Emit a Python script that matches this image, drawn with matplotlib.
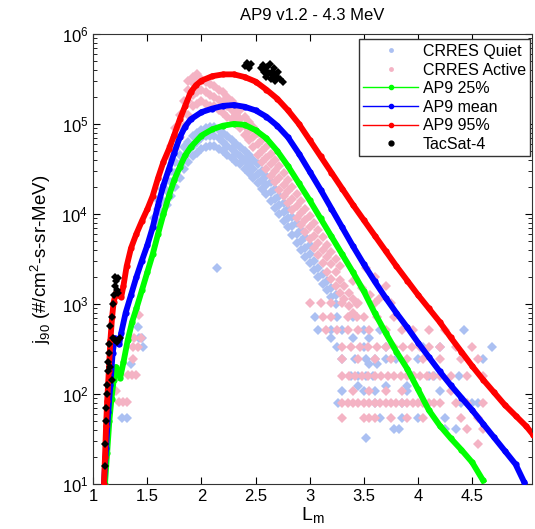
import numpy as np
import matplotlib
matplotlib.use('Agg')
import matplotlib.pyplot as plt
from matplotlib.lines import Line2D

plt.rcParams['font.family'] = ['Liberation Sans', 'DejaVu Sans']

# AP9 model curves (L, log10 flux)
p25_L = [1.11, 1.13, 1.15, 1.17, 1.19, 1.21, 1.23, 1.25, 1.28, 1.32, 1.36, 1.40, 1.45, 1.50,
         1.55, 1.60, 1.65, 1.70, 1.75, 1.80, 1.85, 1.90, 2.00, 2.10, 2.20, 2.30, 2.40, 2.50,
         2.60, 2.70, 2.80, 2.90, 3.00, 3.10, 3.20, 3.30, 3.40, 3.50, 3.60, 3.70, 3.80, 3.90,
         4.00, 4.10, 4.20, 4.30, 4.40, 4.50, 4.60]
p25_log = [1.00, 1.35, 1.70, 1.95, 2.15, 2.30, 2.25, 2.18, 2.35, 2.60, 2.80, 2.95, 3.15, 3.35,
           3.55, 3.78, 4.00, 4.20, 4.38, 4.52, 4.65, 4.74, 4.87, 4.94, 4.98, 5.00, 4.99, 4.93,
           4.84, 4.70, 4.53, 4.34, 4.15, 3.95, 3.75, 3.55, 3.35, 3.14, 2.90, 2.68, 2.47, 2.28,
           2.05, 1.82, 1.65, 1.51, 1.38, 1.24, 1.04]

mean_L = [1.10, 1.12, 1.14, 1.16, 1.18, 1.20, 1.22, 1.24, 1.26, 1.30, 1.35, 1.40, 1.45, 1.50,
          1.55, 1.60, 1.65, 1.70, 1.75, 1.80, 1.85, 1.90, 2.00, 2.10, 2.20, 2.30, 2.40, 2.50,
          2.60, 2.70, 2.80, 2.90, 3.00, 3.10, 3.20, 3.30, 3.40, 3.50, 3.60, 3.70, 3.80, 3.90,
          4.00, 4.10, 4.20, 4.30, 4.40, 4.50, 4.60, 4.70, 4.80, 4.90, 4.98]
mean_log = [1.00, 1.40, 1.80, 2.10, 2.45, 2.62, 2.60, 2.55, 2.68, 2.90, 3.10, 3.30, 3.48, 3.65,
            3.85, 4.10, 4.32, 4.50, 4.68, 4.85, 4.97, 5.05, 5.13, 5.17, 5.20, 5.21, 5.19, 5.15,
            5.08, 4.98, 4.85, 4.67, 4.47, 4.27, 4.06, 3.85, 3.64, 3.44, 3.25, 3.07, 2.90, 2.74,
            2.57, 2.41, 2.25, 2.10, 1.96, 1.82, 1.67, 1.52, 1.37, 1.22, 1.02]

p95_L = [1.10, 1.11, 1.12, 1.13, 1.145, 1.16, 1.175, 1.19, 1.21, 1.23, 1.26, 1.28, 1.31, 1.35,
         1.40, 1.45, 1.50, 1.55, 1.60, 1.65, 1.70, 1.75, 1.80, 1.85, 1.90, 1.95, 2.00, 2.10,
         2.20, 2.30, 2.40, 2.50, 2.60, 2.70, 2.80, 2.90, 3.00, 3.10, 3.20, 3.30, 3.40, 3.50,
         3.60, 3.70, 3.80, 3.90, 4.00, 4.10, 4.20, 4.30, 4.40, 4.50, 4.60, 4.70, 4.80, 4.90,
         5.00, 5.06]
p95_log = [1.00, 1.30, 1.65, 1.92, 2.25, 2.60, 2.85, 3.02, 3.12, 3.10, 3.08, 3.20, 3.42, 3.62,
           3.78, 3.92, 4.05, 4.20, 4.40, 4.58, 4.72, 4.88, 5.05, 5.20, 5.35, 5.43, 5.48, 5.53,
           5.55, 5.55, 5.52, 5.47, 5.38, 5.28, 5.15, 5.00, 4.82, 4.64, 4.46, 4.28, 4.10, 3.93,
           3.76, 3.59, 3.42, 3.26, 3.10, 2.95, 2.80, 2.63, 2.47, 2.31, 2.16, 2.02, 1.88, 1.76,
           1.64, 1.55]

# TacSat-4 measurements
tac_L = [2.40, 2.42, 2.44, 2.46, 2.55, 2.57, 2.59, 2.61, 2.63, 2.65, 2.67, 2.69, 2.71, 2.73,
         2.75, 2.58, 2.62, 2.66, 2.70, 2.60, 2.64, 2.68,
         1.11, 1.11, 1.12, 1.12, 1.13, 1.13, 1.14, 1.14, 1.15, 1.15, 1.16, 1.17, 1.18, 1.19,
         1.20, 1.20, 1.21, 1.22, 1.23, 1.23, 1.18, 1.20, 1.22, 1.25, 1.16, 1.17]
tac_log = [5.64, 5.68, 5.62, 5.66, 5.62, 5.65, 5.60, 5.63, 5.66, 5.58, 5.62, 5.55, 5.58, 5.50,
           5.46, 5.58, 5.56, 5.54, 5.52, 5.52, 5.50, 5.48,
           1.20, 1.45, 1.70, 1.85, 2.00, 2.10, 2.25, 2.35, 2.45, 2.55, 2.75, 2.85, 3.00, 3.10,
           3.20, 3.30, 3.25, 3.15, 3.29, 3.12, 2.62, 2.60, 2.58, 2.62, 2.30, 2.15]

# CRRES Active (pink)
act_L = [1.72, 1.72, 1.76, 1.76, 1.76, 1.80, 1.80, 1.80, 1.84, 1.84, 1.84,
         1.88, 1.88, 1.88, 1.88, 1.92, 1.92, 1.92, 1.92, 1.96, 1.96, 1.96, 1.96,
         2.00, 2.00, 2.00, 2.04, 2.04, 2.04, 2.08, 2.08, 2.08, 2.12, 2.12, 2.12,
         2.16, 2.16, 2.16, 2.20, 2.20, 2.20, 2.24, 2.24, 2.24, 2.28, 2.28, 2.28,
         2.32, 2.32, 2.32, 2.36, 2.36, 2.36, 2.40, 2.40, 2.40, 2.44, 2.44, 2.44,
         2.48, 2.48, 2.48, 2.52, 2.52, 2.52, 2.56, 2.56, 2.56, 2.60, 2.60, 2.60,
         2.64, 2.64, 2.64, 2.68, 2.68, 2.68, 2.72, 2.72, 2.72, 2.76, 2.76, 2.76,
         2.80, 2.80, 2.80, 2.84, 2.84, 2.84, 2.88, 2.88, 2.88, 2.92, 2.92, 2.92,
         2.96, 2.96, 2.96, 3.00, 3.00, 3.00, 3.04, 3.04, 3.04, 3.08, 3.08, 3.08,
         3.12, 3.12, 3.12, 3.16, 3.16, 3.16, 3.20, 3.20, 3.20, 3.24, 3.24, 3.24,
         3.28, 3.28, 3.28, 3.32, 3.32, 3.36, 3.36, 3.40, 3.40, 3.44, 3.44,
         3.40, 3.48, 3.56, 3.64, 3.52, 3.60, 3.70,
         3.00, 3.10, 3.20, 3.30, 3.45, 3.60, 3.75,
         3.12, 3.20, 3.35, 3.50, 3.62, 3.78,
         3.15, 3.25, 3.35, 3.45, 3.55, 3.70, 3.85, 3.95, 4.10, 4.25,
         3.30, 3.38, 3.46, 3.54, 3.62, 3.70, 3.78, 3.86, 3.94, 4.02, 4.10, 4.20, 4.35, 4.50,
         3.30, 3.45, 3.60, 3.75, 3.90, 4.05, 4.20, 4.40, 4.55,
         3.30, 3.36, 3.42, 3.48, 3.54, 3.60, 3.66, 3.72, 3.78, 3.84, 3.90, 3.96, 4.02, 4.08,
         4.14, 4.20, 4.30, 4.45, 4.60,
         3.40, 3.55, 3.70, 3.85, 4.30,
         3.30, 3.35, 3.40, 3.45, 3.50, 3.55, 3.60, 3.65, 3.70, 3.75, 3.80, 3.85, 3.90, 3.95,
         4.00, 4.05, 4.10, 4.15, 4.20, 4.35, 4.45, 4.60,
         3.30, 3.50, 3.55, 3.60, 3.75, 3.90, 4.05, 4.40, 4.55,
         4.45, 4.60, 4.55,
         1.42, 1.38, 1.44, 1.37, 1.41, 1.37, 1.32, 1.36, 1.40, 1.21, 1.24, 1.28, 1.31]
act_log = [4.62, 4.75, 4.72, 4.85, 4.95, 4.85, 4.98, 5.10, 4.98, 5.12, 5.25,
           5.10, 5.25, 5.38, 5.48, 5.20, 5.32, 5.45, 5.52, 5.22, 5.35, 5.48, 5.55,
           5.25, 5.38, 5.50, 5.22, 5.35, 5.47, 5.20, 5.32, 5.44, 5.20, 5.30, 5.42,
           5.15, 5.27, 5.38, 5.12, 5.24, 5.35, 5.08, 5.20, 5.30, 5.05, 5.15, 5.25,
           5.00, 5.10, 5.20, 4.95, 5.05, 5.15, 4.88, 4.98, 5.08, 4.82, 4.92, 5.02,
           4.74, 4.85, 4.96, 4.66, 4.78, 4.90, 4.58, 4.70, 4.82, 4.50, 4.62, 4.74,
           4.42, 4.55, 4.67, 4.35, 4.48, 4.60, 4.27, 4.40, 4.53, 4.20, 4.32, 4.45,
           4.12, 4.25, 4.38, 4.04, 4.17, 4.30, 3.96, 4.09, 4.22, 3.88, 4.01, 4.14,
           3.80, 3.93, 4.06, 3.72, 3.85, 3.98, 3.62, 3.76, 3.90, 3.54, 3.68, 3.82,
           3.45, 3.60, 3.74, 3.36, 3.52, 3.66, 3.28, 3.44, 3.58, 3.20, 3.35, 3.50,
           3.12, 3.27, 3.42, 3.05, 3.20, 2.98, 3.12, 2.90, 3.05, 2.85, 3.00,
           3.25, 3.18, 3.10, 3.05, 3.40, 3.30, 3.20,
           3.01, 3.01, 3.01, 3.01, 3.01, 3.01, 3.01,
           2.85, 2.85, 2.85, 2.85, 2.85, 2.85,
           2.71, 2.71, 2.71, 2.71, 2.71, 2.71, 2.71, 2.71, 2.71, 2.71,
           2.52, 2.52, 2.52, 2.52, 2.52, 2.52, 2.52, 2.52, 2.52, 2.52, 2.52, 2.52, 2.52, 2.52,
           2.39, 2.39, 2.39, 2.39, 2.39, 2.39, 2.39, 2.39, 2.39,
           2.20, 2.20, 2.20, 2.20, 2.20, 2.20, 2.20, 2.20, 2.20, 2.20, 2.20, 2.20, 2.20, 2.20,
           2.20, 2.20, 2.20, 2.20, 2.20,
           2.03, 2.03, 2.03, 2.03, 2.03,
           1.90, 1.90, 1.90, 1.90, 1.90, 1.90, 1.90, 1.90, 1.90, 1.90, 1.90, 1.90, 1.90, 1.90,
           1.90, 1.90, 1.90, 1.90, 1.90, 1.90, 1.90, 1.90,
           1.73, 1.73, 1.73, 1.73, 1.73, 1.73, 1.73, 1.73, 1.73,
           1.61, 1.61, 1.45,
           2.88, 2.62, 2.62, 2.52, 2.52, 2.39, 2.21, 2.21, 2.21, 2.03, 1.91, 1.91, 1.91]

# CRRES Quiet (light blue)
qui_L = [1.56, 1.56, 1.60, 1.60, 1.60, 1.64, 1.64, 1.64, 1.68, 1.68, 1.68, 1.72, 1.72, 1.72,
         1.76, 1.76, 1.76, 1.80, 1.80, 1.80, 1.84, 1.84, 1.84, 1.88, 1.88, 1.88,
         1.92, 1.92, 1.92, 1.96, 1.96, 1.96, 2.00, 2.00, 2.00, 2.04, 2.04, 2.04,
         2.08, 2.08, 2.08, 2.12, 2.12, 2.12, 2.16, 2.16, 2.16, 2.20, 2.20, 2.20,
         2.24, 2.24, 2.24, 2.28, 2.28, 2.28, 2.32, 2.32, 2.32, 2.36, 2.36, 2.36,
         2.40, 2.40, 2.40, 2.44, 2.44, 2.44, 2.48, 2.48, 2.48, 2.52, 2.52, 2.52,
         2.56, 2.56, 2.56, 2.60, 2.60, 2.60, 2.64, 2.64, 2.64, 2.68, 2.68, 2.68,
         2.72, 2.72, 2.72, 2.76, 2.76, 2.76, 2.80, 2.80, 2.80, 2.84, 2.84, 2.84,
         2.88, 2.88, 2.88, 2.92, 2.92, 2.92, 2.96, 2.96, 2.96, 3.00, 3.00, 3.00,
         3.04, 3.04, 3.08, 3.08, 3.12, 3.12, 3.16, 3.16, 3.20, 3.20, 3.24, 3.24,
         3.05, 3.25, 3.40,
         3.08, 3.20, 3.30, 3.50, 3.65, 4.42,
         3.20, 3.40, 3.55,
         3.25, 3.50, 3.70, 4.05, 4.20, 4.68,
         3.30, 3.42, 3.52, 3.60, 3.70, 3.80, 4.00, 4.60,
         3.55, 3.62,
         3.38, 3.45, 3.52, 3.58, 3.95, 4.10, 4.15, 4.38,
         3.45, 3.70, 3.90,
         3.30, 3.50, 3.60, 3.90, 4.20,
         3.26, 3.60, 3.85, 4.40, 4.50, 4.55,
         3.65, 3.85, 4.00, 4.25,
         3.78, 3.82, 4.25, 4.35,
         3.52,
         1.41, 1.45, 1.46, 1.35, 1.42, 1.27, 1.31, 2.14]
qui_log = [3.85, 3.95, 3.90, 4.05, 4.15, 4.00, 4.15, 4.28, 4.10, 4.25, 4.38, 4.20, 4.35, 4.48,
           4.30, 4.45, 4.58, 4.40, 4.55, 4.66, 4.50, 4.63, 4.74, 4.58, 4.70, 4.80,
           4.64, 4.76, 4.86, 4.68, 4.80, 4.90, 4.72, 4.84, 4.93, 4.74, 4.86, 4.95,
           4.75, 4.87, 4.97, 4.75, 4.86, 4.96, 4.72, 4.84, 4.93, 4.70, 4.80, 4.90,
           4.66, 4.76, 4.86, 4.62, 4.72, 4.82, 4.58, 4.68, 4.78, 4.55, 4.64, 4.74,
           4.50, 4.60, 4.70, 4.46, 4.56, 4.66, 4.40, 4.50, 4.60, 4.34, 4.44, 4.55,
           4.28, 4.38, 4.48, 4.22, 4.32, 4.42, 4.14, 4.24, 4.35, 4.07, 4.17, 4.28,
           4.00, 4.10, 4.20, 3.92, 4.02, 4.12, 3.85, 3.95, 4.05, 3.77, 3.87, 3.97,
           3.68, 3.78, 3.90, 3.60, 3.70, 3.82, 3.52, 3.62, 3.74, 3.45, 3.55, 3.66,
           3.38, 3.48, 3.30, 3.40, 3.22, 3.33, 3.15, 3.25, 3.08, 3.18, 3.00, 3.10,
           2.85, 2.85, 2.85,
           2.71, 2.71, 2.71, 2.71, 2.71, 2.71,
           2.62, 2.62, 2.62,
           2.52, 2.52, 2.52, 2.52, 2.52, 2.52,
           2.39, 2.39, 2.39, 2.39, 2.39, 2.39, 2.39, 2.39,
           2.33, 2.33,
           2.20, 2.20, 2.20, 2.20, 2.20, 2.20, 2.20, 2.20,
           2.09, 2.09, 2.09,
           2.03, 2.03, 2.03, 2.03, 2.03,
           1.90, 1.90, 1.90, 1.90, 1.90, 1.90,
           1.73, 1.73, 1.73, 1.73,
           1.61, 1.61, 1.61, 1.61,
           1.51,
           2.74, 2.62, 2.52, 2.33, 2.62, 1.73, 1.73, 3.40]

quiet_color = '#abc0f2'
active_color = '#f4b3c4'

fig = plt.figure(figsize=(5.35, 5.29), dpi=100)
ax = fig.add_axes([0.174, 0.085, 0.82, 0.851])

ax.plot(qui_L, 10 ** np.array(qui_log), 'D', color=quiet_color, ms=5.2, mew=0, zorder=2)
ax.plot(act_L, 10 ** np.array(act_log), 'D', color=active_color, ms=5.2, mew=0, zorder=2)
ax.plot(p25_L, 10 ** np.array(p25_log), '-o', color=(0, 1, 0), lw=4.2, ms=4.5, mew=0, zorder=3)
ax.plot(mean_L, 10 ** np.array(mean_log), '-o', color=(0, 0, 1), lw=4.2, ms=4.5, mew=0, zorder=3)
ax.plot(p95_L, 10 ** np.array(p95_log), '-o', color=(1, 0, 0), lw=4.2, ms=4.5, mew=0, zorder=3)
ax.plot(tac_L, 10 ** np.array(tac_log), 'D', color='k', ms=4.5, mew=0, zorder=4)

ax.set_yscale('log')
ax.set_xlim(1, 5.05)
ax.set_ylim(10, 1e6)
ax.set_xticks([1, 1.5, 2, 2.5, 3, 3.5, 4, 4.5])
ax.set_xticklabels(['1', '1.5', '2', '2.5', '3', '3.5', '4', '4.5'])
ax.tick_params(which='both', direction='in', top=True, right=True, labelsize=12)
ax.tick_params(which='major', length=5)
ax.tick_params(which='minor', length=3)
for s in ax.spines.values():
    s.set_color('#333333')

ax.set_title('AP9 v1.2 - 4.3 MeV', fontsize=12, pad=10)
ax.set_xlabel('L$_\\mathregular{m}$', fontsize=14, labelpad=1)
ax.set_ylabel('j$_\\mathregular{90}$ (#/cm$^\\mathregular{2}$-s-sr-MeV)', fontsize=13.5, labelpad=6)

handles = [
    Line2D([], [], ls='none', marker='o', ms=3.5, color=quiet_color, mew=0),
    Line2D([], [], ls='none', marker='o', ms=3.5, color=active_color, mew=0),
    Line2D([], [], color=(0, 1, 0), lw=1, marker='o', ms=3),
    Line2D([], [], color=(0, 0, 1), lw=1, marker='o', ms=3),
    Line2D([], [], color=(1, 0, 0), lw=1, marker='o', ms=3),
    Line2D([], [], ls='none', marker='o', ms=3.5, color='k'),
]
labels = ['CRRES Quiet', 'CRRES Active', 'AP9 25%', 'AP9 mean', 'AP9 95%', 'TacSat-4']
leg = ax.legend(handles, labels, loc='upper right', bbox_to_anchor=(0.997, 0.988),
                borderaxespad=0, fontsize=11.5, fancybox=False,
                framealpha=1, edgecolor='#333333',
                handlelength=3.4, labelspacing=0.22, borderpad=0.3, handletextpad=0.3)
leg.get_frame().set_linewidth(1)

fig.savefig('out.png', dpi=100)
